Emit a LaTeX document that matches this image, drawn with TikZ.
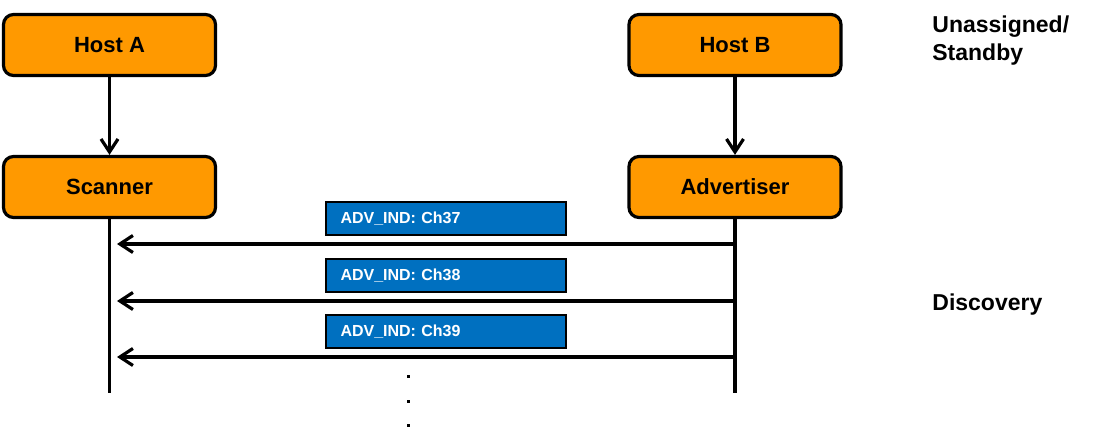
\documentclass[tikz,border=0pt]{standalone}
\usepackage{fontspec}
\setmainfont{Liberation Sans}
\usetikzlibrary{arrows.meta}
\definecolor{hostorange}{RGB}{255,153,0}
\definecolor{advblue}{RGB}{0,112,192}
\tikzset{
	role/.style={draw, line width=1.6pt, fill=hostorange, rounded corners=5pt,
		minimum width=106pt, minimum height=30.5pt, inner sep=0pt,
		font=\bfseries\fontsize{11}{13}\selectfont},
	pdu/.style={draw, line width=1pt, fill=advblue, text=white, anchor=center,
		minimum width=120pt, minimum height=16.5pt, inner xsep=7.5pt, inner ysep=0pt,
		text width=105pt, align=left, font=\bfseries\fontsize{8}{10}\selectfont},
	life/.style={line width=1.6pt},
	msg/.style={line width=1.6pt, -{Straight Barb[length=6.5pt,width=8.5pt]}},
	phase/.style={inner sep=0pt, align=left, font=\bfseries\fontsize{11.5}{14}\selectfont},
}
\begin{document}
\begin{tikzpicture}[x=0.5pt,y=-0.5pt]
	\useasboundingbox (0,0) rectangle (1104,443);
	\node[role] (hostA) at (109.5,45) {Host A};
	\node[role] (hostB) at (735,45) {Host B};
	\node[role] (scanner) at (109.5,187) {Scanner};
	\node[role] (advertiser) at (735,187) {Advertiser};
	\draw[msg] (hostA) -- (scanner);
	\draw[msg] (hostB) -- (advertiser);
	% lifelines
	\coordinate (sEnd) at (109.5,393);
	\coordinate (aEnd) at (735,393);
	\draw[life] (scanner) -- (sEnd);
	\draw[life] (advertiser) -- (aEnd);
	\foreach \ch/\y in {37/244,38/301,39/357}{
		\coordinate (r\ch) at (735,\y);
		\coordinate (l\ch) at (117,\y);
		\draw[msg] (r\ch) -- (l\ch);
		\node[pdu] (pdu\ch) at (445.5,\y-25) {ADV\_IND: Ch\ch};
	}
	\foreach \y in {377,402,426}
		\fill (406.5,\y-1.5) rectangle ++(3,3);
	\node[phase, anchor=north west] (standby) at (932,15) {Unassigned/\\Standby};
	\node[phase, anchor=base west] (discovery) at (932,311) {Discovery};
\end{tikzpicture}
\end{document}
